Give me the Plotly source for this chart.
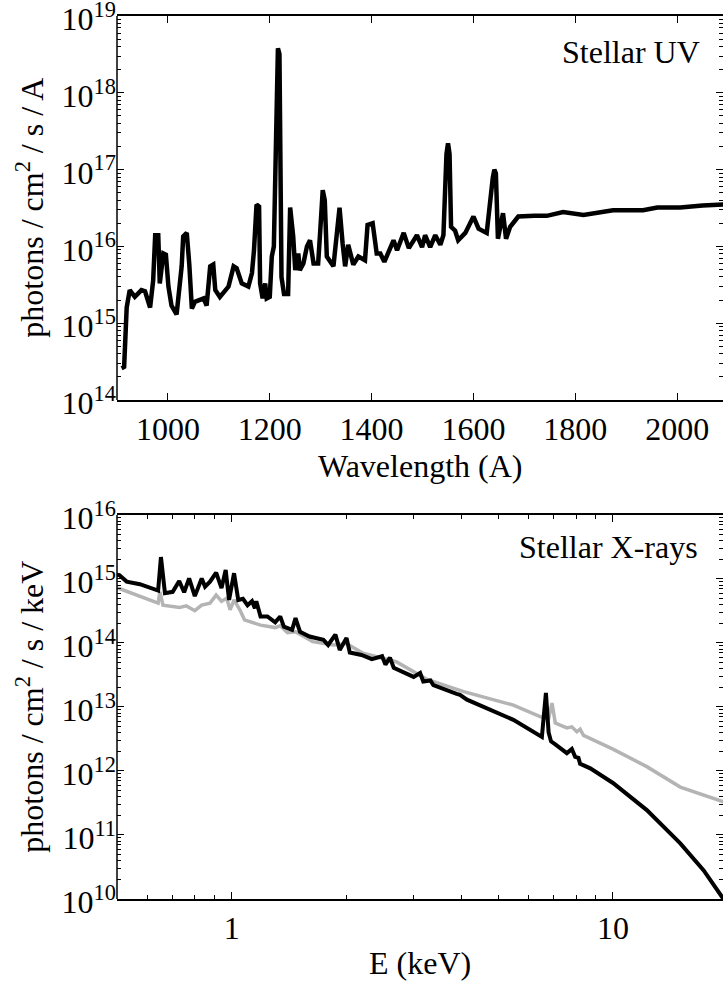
import plotly.graph_objects as go

# ---------------- data: top panel (stellar UV) ----------------
uv_wavelength = [909, 914, 919, 925, 935, 948, 955, 965, 971, 975, 981, 984, 991, 996,
                 1001, 1007, 1017, 1024, 1027, 1030, 1037, 1042, 1047, 1053, 1070, 1076,
                 1083, 1089, 1093, 1102, 1119, 1129, 1135, 1145, 1158, 1165, 1169, 1174,
                 1179, 1181, 1186, 1191, 1194, 1200, 1204, 1208, 1212, 1216, 1219, 1223,
                 1228, 1236, 1240, 1246, 1250, 1256, 1259, 1266, 1273, 1279, 1286, 1295,
                 1300, 1304, 1308, 1312, 1325, 1334, 1337, 1343, 1348, 1354, 1364, 1374,
                 1387, 1392, 1402, 1410, 1417, 1425, 1430, 1443, 1450, 1463, 1473, 1489,
                 1499, 1505, 1515, 1525, 1535, 1541, 1547, 1550, 1553, 1556, 1564, 1570,
                 1584, 1600, 1610, 1626, 1638, 1641, 1644, 1648, 1658, 1664, 1672, 1688,
                 1720, 1744, 1776, 1816, 1874, 1933, 1961, 2006, 2050, 2100]
uv_flux = [2.6e14, 2.7e14, 1.6e15, 2.7e15, 2.2e15, 2.7e15, 2.6e15, 1.6e15, 3.6e15, 1.4e16,
           1.4e16, 3.3e15, 8.1e15, 7.8e15, 3.0e15, 1.7e15, 1.3e15, 3.3e15, 5.5e15, 1.35e16,
           1.5e16, 5.8e15, 1.55e15, 1.9e15, 2.1e15, 1.7e15, 5.5e15, 5.8e15, 2.7e15, 2.2e15,
           3.0e15, 5.5e15, 5.2e15, 3.3e15, 3.0e15, 4.5e15, 8.9e15, 3.5e16, 3.3e16, 3.3e15,
           2.1e15, 3.3e15, 2.1e15, 2.2e15, 7.4e15, 1.0e16, 4.0e17, 3.8e18, 3.2e18, 4.0e15,
           2.4e15, 2.4e15, 3.2e16, 1.35e16, 4.9e15, 8.1e15, 4.9e15, 6.0e15, 1.0e16, 1.2e16,
           6.0e15, 6.0e15, 2.0e16, 5.4e16, 4.0e16, 7.4e15, 5.5e15, 2.0e16, 3.2e16, 1.1e16,
           5.5e15, 1.05e16, 5.8e15, 7.4e15, 6.6e15, 1.9e16, 2.0e16, 8.1e15, 8.1e15, 6.3e15,
           7.4e15, 1.2e16, 8.9e15, 1.5e16, 9.5e15, 1.4e16, 9.8e15, 1.4e16, 9.8e15, 1.4e16,
           1.05e16, 1.4e16, 1.6e17, 2.2e17, 1.6e17, 1.8e16, 1.6e16, 1.2e16, 1.5e16, 2.45e16,
           1.7e16, 1.5e16, 7.9e16, 1.0e17, 8.9e16, 1.26e16, 2.7e16, 1.26e16, 1.8e16, 2.45e16,
           2.5e16, 2.5e16, 2.8e16, 2.57e16, 2.95e16, 2.95e16, 3.2e16, 3.2e16, 3.4e16, 3.55e16]

# ---------------- data: bottom panel (stellar X-rays) ----------------
xr_energy = [0.500, 0.507, 0.53, 0.574, 0.641, 0.652, 0.668, 0.70, 0.728, 0.75, 0.773, 0.80,
             0.834, 0.851, 0.877, 0.91, 0.94, 0.964, 0.984, 1.014, 1.04, 1.07, 1.10, 1.13,
             1.15, 1.16, 1.19, 1.24, 1.30, 1.34, 1.37, 1.44, 1.47, 1.51, 1.60, 1.74, 1.79,
             1.87, 1.92, 2.00, 2.04, 2.19, 2.33, 2.48, 2.53, 2.60, 2.66, 2.94, 3.0, 3.12,
             3.18, 3.32, 3.38, 3.89, 3.97, 4.14, 4.57, 5.48, 6.51, 6.58, 6.67, 6.78, 6.88,
             7.06, 7.57, 7.80, 7.96, 8.12, 8.20, 8.72, 10.0, 12.27, 15.02, 17.3, 19.5, 20.0]
xr_flux = [1.17e15, 1.15e15, 9.1e14, 8.3e14, 6.6e14, 2.2e15, 6.0e14, 6.3e14, 9.3e14, 6.2e14,
           1.02e15, 5.4e14, 1.02e15, 7.6e14, 9.1e14, 1.26e15, 7.2e14, 1.38e15, 4.7e14, 1.23e15,
           4.7e14, 4.9e14, 3.9e14, 4.5e14, 3.5e14, 4.5e14, 2.6e14, 2.6e14, 2.1e14, 2.6e14,
           1.8e14, 1.6e14, 2.45e14, 1.5e14, 1.26e14, 1.12e14, 9.3e13, 1.35e14, 7.8e13, 1.2e14,
           7.1e13, 6.5e13, 5.6e13, 6.2e13, 4.6e13, 5.9e13, 4.1e13, 3.2e13, 2.95e13, 3.4e13,
           2.5e13, 2.6e13, 2.2e13, 1.6e13, 1.55e13, 1.3e13, 1.0e13, 6.3e12, 3.4e12, 7.9e12,
           1.66e13, 4.0e12, 2.9e12, 2.6e12, 1.9e12, 2.2e12, 1.66e12, 1.6e12, 1.3e12, 1.1e12,
           6.5e11, 2.45e11, 7.4e10, 2.8e10, 1.02e10, 8e9]

xr_energy_ref = [0.500, 0.507, 0.641, 0.648, 0.66, 0.73, 0.76, 0.80, 0.834, 0.877, 0.91, 0.94,
                 0.97, 0.99, 1.014, 1.05, 1.08, 1.19, 1.30, 1.34, 1.40, 1.47, 1.63, 1.85, 2.0,
                 2.21, 2.70, 3.25, 4.06, 5.48, 6.44, 6.78, 6.92, 7.06, 7.57, 7.80, 8.04, 8.20,
                 8.37, 10.0, 12.27, 15.02, 19.5, 20.0]
xr_flux_ref = [7.2e14, 7.1e14, 4.2e14, 6.3e14, 3.9e14, 3.6e14, 3.8e14, 3.2e14, 3.9e14, 4.2e14,
               5.6e14, 4.5e14, 5.0e14, 3.3e14, 4.7e14, 3.3e14, 2.3e14, 1.9e14, 1.74e14, 1.86e14,
               1.45e14, 1.5e14, 1.05e14, 9.3e13, 9.8e13, 6.9e13, 5.1e13, 2.7e13, 1.74e13, 1.07e13,
               7.1e12, 6.6e12, 1.15e13, 5.6e12, 4.7e12, 4.9e12, 4.1e12, 4.5e12, 3.6e12, 2.2e12,
               1.17e12, 5.6e11, 3.3e11, 3.1e11]

uv_xticks = [1000, 1200, 1400, 1600, 1800, 2000]
uv_yexp = [14, 15, 16, 17, 18, 19]
xr_yexp = [10, 11, 12, 13, 14, 15, 16]
xr_xticks = [1, 10]
xr_xticktext = ["1", "10"]

FONT = "Liberation Serif"
FS = 32

fig = go.Figure()
fig.add_trace(go.Scatter(x=uv_wavelength, y=uv_flux, mode="lines",
                         line=dict(color="black", width=4.5), xaxis="x", yaxis="y",
                         showlegend=False))
fig.add_trace(go.Scatter(x=xr_energy_ref, y=xr_flux_ref, mode="lines",
                         line=dict(color="#b4b4b4", width=3.5), xaxis="x2", yaxis="y2",
                         showlegend=False))
fig.add_trace(go.Scatter(x=xr_energy, y=xr_flux, mode="lines",
                         line=dict(color="black", width=4), xaxis="x2", yaxis="y2",
                         showlegend=False))

top_dom = [0.5651, 1.0]
bot_dom = [0.0, 0.4349]

ax_common = dict(showgrid=False, zeroline=False, ticks="inside", ticklen=7, tickwidth=1,
                 tickcolor="black", automargin=False, tickangle=0,
                 tickfont=dict(family=FONT, size=FS, color="black"))

def pow_labels(exps):
    return [10.0 ** e for e in exps], ["10<sup>%d</sup>" % e for e in exps]

uv_yv, uv_yt = pow_labels(uv_yexp)
xr_yv, xr_yt = pow_labels(xr_yexp)

uv_minor = [k * 10.0 ** n for n in range(14, 19) for k in range(2, 10)]
xr_minor_y = [k * 10.0 ** n for n in range(10, 16) for k in range(2, 10)]
xr_minor_x = [0.6, 0.7, 0.8, 0.9, 2, 3, 4, 5, 6, 7, 8, 9, 20]

minor_style = dict(ticks="inside", ticklen=4, tickwidth=1, tickcolor="black", showgrid=False)

fig.update_layout(
    width=723, height=983,
    margin=dict(l=117, r=0, t=16, b=84),
    paper_bgcolor="white", plot_bgcolor="white",
    xaxis=dict(domain=[0, 1], anchor="y", range=[900, 2090], tickmode="array",
               tickvals=uv_xticks, ticktext=[str(v) for v in uv_xticks],
               showline=True, linewidth=1.5, linecolor="black", mirror="ticks", **ax_common),
    yaxis=dict(domain=top_dom, anchor="x", type="log", range=[14, 19], tickmode="array",
               tickvals=uv_yv, ticktext=uv_yt, showline=False, mirror="ticks",
               ticklabelshift=3,
               minor=dict(tickmode="array", tickvals=uv_minor, **minor_style),
               **ax_common),
    xaxis2=dict(domain=[0, 1], anchor="y2", type="log", range=[-0.30103, 1.2887],
                tickmode="array", tickvals=xr_xticks, ticktext=xr_xticktext,
                showline=True, linewidth=1.5, linecolor="black", mirror="ticks",
                minor=dict(tickmode="array", tickvals=xr_minor_x, **minor_style),
                **ax_common),
    yaxis2=dict(domain=bot_dom, anchor="x2", type="log", range=[10, 16], tickmode="array",
                tickvals=xr_yv, ticktext=xr_yt, showline=False, mirror="ticks",
                ticklabelshift=3,
                minor=dict(tickmode="array", tickvals=xr_minor_y, **minor_style),
                **ax_common),
)

# left spines
for dom in (top_dom, bot_dom):
    fig.add_shape(type="line", xref="paper", yref="paper", x0=0, x1=0, y0=dom[0], y1=dom[1],
                  line=dict(color="black", width=1.5))

tfont = dict(family=FONT, size=FS, color="black")
annots = [
    dict(text="Stellar UV", x=0.9653, y=0.9592, xanchor="right", yanchor="middle"),
    dict(text="Stellar X-rays", x=0.962, y=0.3986, xanchor="right", yanchor="middle"),
    dict(text="Wavelength (A)", x=0.5, y=0.49, xanchor="center", yanchor="middle"),
    dict(text="E (keV)", x=0.5, y=-0.0725, xanchor="center", yanchor="middle"),
    dict(text="photons / cm<sup>2</sup> / s / A", x=-0.144, y=0.7826, textangle=-90,
         xanchor="center", yanchor="middle"),
    dict(text="photons / cm<sup>2</sup> / s / keV", x=-0.144, y=0.2175, textangle=-90,
         xanchor="center", yanchor="middle"),
]
for a in annots:
    fig.add_annotation(xref="paper", yref="paper", showarrow=False, font=tfont, **a)

fig.write_html("out.html")
